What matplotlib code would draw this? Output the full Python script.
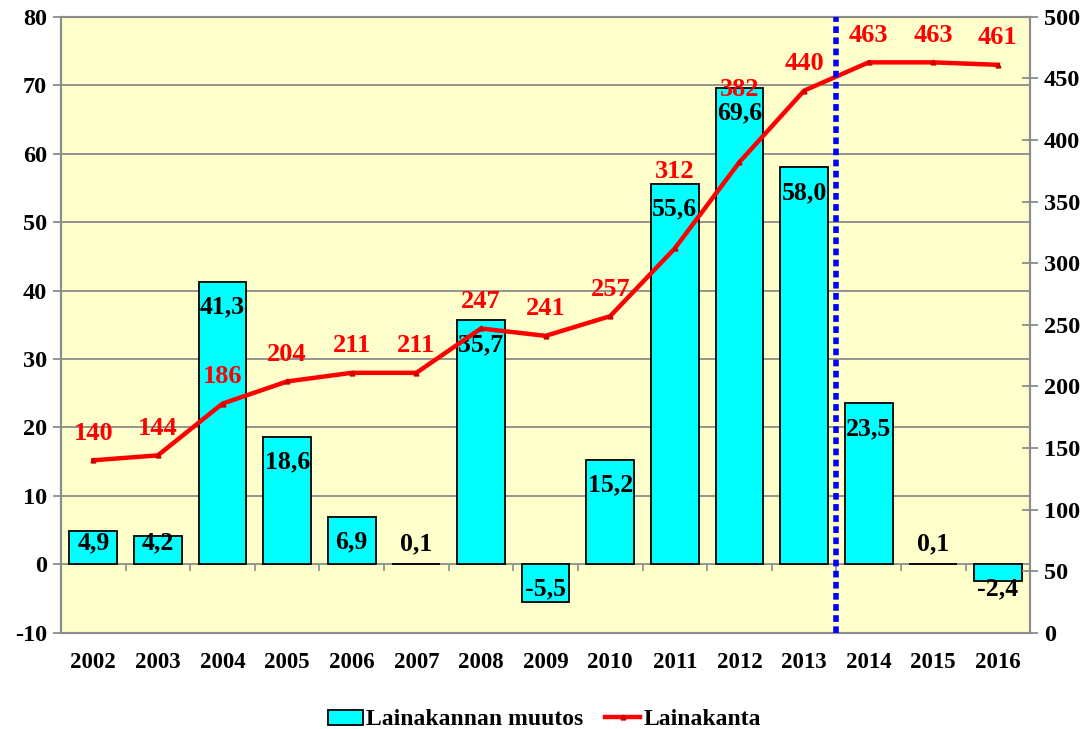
import numpy as np
import matplotlib
matplotlib.use('Agg')
from matplotlib import pyplot as plt

years = ['2002', '2003', '2004', '2005', '2006', '2007', '2008', '2009',
         '2010', '2011', '2012', '2013', '2014', '2015', '2016']
muutos = [4.9, 4.2, 41.3, 18.6, 6.9, 0.1, 35.7, -5.5, 15.2, 55.6, 69.6, 58.0, 23.5, 0.1, -2.4]
kanta = [140, 144, 186, 204, 211, 211, 247, 241, 257, 312, 382, 440, 463, 463, 461]
left_ticks = [-10, 0, 10, 20, 30, 40, 50, 60, 70, 80]
right_ticks = [0, 50, 100, 150, 200, 250, 300, 350, 400, 450, 500]

plt.rcParams['font.family'] = ['Liberation Serif', 'DejaVu Serif']
plt.rcParams['font.weight'] = 'bold'
plt.rcParams['axes.unicode_minus'] = False

BG = '#FFFFCC'
GRID = '#8C8C8C'

fig = plt.figure(figsize=(10.89, 7.29), dpi=100)
ax = fig.add_axes([0.056, 0.132, 0.89, 0.845])
ax.set_facecolor(BG)
x = np.arange(len(years))

ax.bar(x, muutos, width=0.74, color='#00FFFF', edgecolor='black', linewidth=1.3,
       zorder=3, label='Lainakannan muutos')
ax.set_xlim(-0.5, len(years) - 0.5)
ax.set_ylim(left_ticks[0], left_ticks[-1])
ax.set_yticks(left_ticks)
ax.grid(axis='y', color=GRID, linewidth=1.3, zorder=0)
ax.set_axisbelow(True)
ax.set_xticks(x)
ax.set_xticklabels(years)
ax.tick_params(axis='x', length=0, labelsize=16.5, pad=14)
ax.tick_params(axis='y', length=6, color=GRID, width=1.3, labelsize=17.5, pad=4)
for s in ax.spines.values():
    s.set_color(GRID)
    s.set_linewidth(1.5)

# tick marks between categories on the zero line
zero_frac = (0 - left_ticks[0]) / (left_ticks[-1] - left_ticks[0])
sec = ax.secondary_xaxis(zero_frac)
sec.set_xticks(x[:-1] + 0.5)
sec.set_xticklabels([])
sec.tick_params(length=5, color=GRID, width=1.2)
sec.spines['bottom'].set_visible(False)

# bar labels
for xi, v in zip(x, muutos):
    txt = f'{v:.1f}'.replace('.', ',')
    if abs(v) < 1:
        y = v + 2.9
    elif v < 0:
        y = -3.65
    else:
        y = max(v - 3.65, 3.2)
    ax.text(xi, y, txt, ha='center', va='center', fontsize=18.5,
            fontweight='bold', color='black', zorder=6)

ax2 = ax.twinx()
ax2.set_ylim(right_ticks[0], right_ticks[-1])
ax2.set_yticks(right_ticks)
ax2.plot(x, kanta, color='#FF0000', linewidth=3.2, marker='^', markersize=3.5,
         markerfacecolor='#CC0000', markeredgecolor='#CC0000', zorder=4,
         label='Lainakanta')
ax2.tick_params(axis='y', direction='inout', length=12, color=GRID, width=1.3,
                labelsize=17.5, pad=4)
for s in ax2.spines.values():
    s.set_color(GRID)
    s.set_linewidth(1.5)

offsets = {9: 55, 10: 52}
for i, (xi, v) in enumerate(zip(x, kanta)):
    ax2.annotate(str(v), (xi, v), xytext=(0, offsets.get(i, 19.5)),
                 textcoords='offset points', ha='center', va='center',
                 fontsize=19, fontweight='bold', color='#FF0000', zorder=7)

# dotted separator between actuals and forecast
ax2.axvline(11.5, color='#0000FF', linewidth=4, linestyle=(0, (1.2, 0.8)), zorder=5)

h1, l1 = ax.get_legend_handles_labels()
h2, l2 = ax2.get_legend_handles_labels()
fig.legend(h1 + h2, l1 + l2, loc='lower center', bbox_to_anchor=(0.5, -0.031),
           ncol=2, frameon=False, fontsize=17, handlelength=1.5,
           handleheight=0.6, handletextpad=0.15, columnspacing=0.9)

fig.savefig('out.png', dpi=100, facecolor='white')
